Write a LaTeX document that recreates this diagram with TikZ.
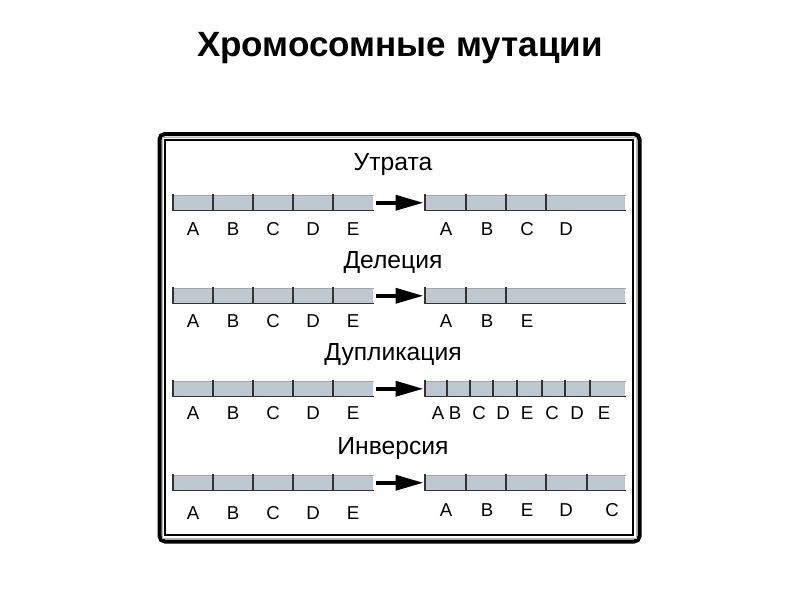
\documentclass[tikz,border=0pt]{standalone}
\usepackage{fontspec}
\setmainfont{Liberation Sans}
\usetikzlibrary{arrows.meta}
\definecolor{barfill}{RGB}{190,200,208}
\definecolor{barrim}{RGB}{160,168,175}
\newcommand\chromo[4]{%
  \node[chrombar, anchor=north west] (#1) at (#2,#3) {};
  \draw[barrim, line width=0.6pt] (#1.north west) -- (#1.north east);
  \foreach \d in {#4} \draw[divline] (\d,#3) -- (\d,#3+15.5);
  \draw[divline] (#1.south west) -- (#1.south east);
}
\begin{document}
\begin{tikzpicture}[x=0.75pt,y=-0.75pt,
  chrombar/.style={fill=barfill, draw=none, inner sep=0pt, minimum width=150pt, minimum height=11.25pt},
  divline/.style={black!80, line width=1.1pt, line cap=rect},
  lab/.style={font=\fontsize{14}{16}\selectfont, inner sep=0pt},
  sect/.style={font=\fontsize{18.5}{21}\selectfont, inner sep=0pt},
  mutarrow/.style={line width=3.2pt, -{Triangle[length=21pt, width=11pt]}, shorten <=2pt, shorten >=1pt}
]
\useasboundingbox (0,0) rectangle (800,600);
\fill[white] (0,0) rectangle (800,600);

\node[font=\bfseries\fontsize{26.3}{30}\selectfont, inner sep=0pt] (title) at (400,48) {Хромосомные мутации};

% frame
\draw[black, line width=3pt, rounded corners=4pt] (159.5,134) rectangle (639.5,541.5);
\draw[gray!60, line width=0.6pt] (162.5,137) rectangle (636.5,538.5);
\draw[black, line width=1.1pt] (165,140) rectangle (633,535);

% row 1: Утрата
\node[sect] (s1) at (393,165) {Утрата};
\chromo{L1}{173}{195}{173,213,253,293,333}
\chromo{R1}{425}{195}{425,466,506,546}
\draw[mutarrow] (L1.east) -- (R1.west);
\foreach \t/\x [count=\i] in {A/193,B/233,C/273,D/313,E/353}
  \node[lab] (l1\i) at (\x,229) {\t};
\foreach \t/\x [count=\i] in {A/446,B/487,C/527,D/566}
  \node[lab] (r1\i) at (\x,229) {\t};

% row 2: Делеция
\node[sect] (s2) at (393,262) {Делеция};
\chromo{L2}{173}{288}{173,213,253,293,333}
\chromo{R2}{425}{288}{425,466,506}
\draw[mutarrow] (L2.east) -- (R2.west);
\foreach \t/\x [count=\i] in {A/193,B/233,C/273,D/313,E/353}
  \node[lab] (l2\i) at (\x,321) {\t};
\foreach \t/\x [count=\i] in {A/446,B/487,E/527}
  \node[lab] (r2\i) at (\x,321) {\t};

% row 3: Дупликация
\node[sect] (s3) at (393,355) {Дупликация};
\chromo{L3}{173}{381}{173,213,253,293,333}
\chromo{R3}{425}{381}{425,447,470,493,517,542,565,590}
\draw[mutarrow] (L3.east) -- (R3.west);
\foreach \t/\x [count=\i] in {A/193,B/233,C/273,D/313,E/353}
  \node[lab] (l3\i) at (\x,413) {\t};
\foreach \t/\x [count=\i] in {A/438,B/455,C/479,D/503,E/527,C/552,D/577,E/604}
  \node[lab] (r3\i) at (\x,413) {\t};

% row 4: Инверсия
\node[sect] (s4) at (393,449) {Инверсия};
\chromo{L4}{173}{475}{173,213,253,293,333}
\chromo{R4}{425}{475}{425,466,506,546,587}
\draw[mutarrow] (L4.east) -- (R4.west);
\foreach \t/\x [count=\i] in {A/193,B/233,C/273,D/313,E/353}
  \node[lab] (l4\i) at (\x,513) {\t};
\foreach \t/\x [count=\i] in {A/446,B/487,E/527,D/566,C/612}
  \node[lab] (r4\i) at (\x,510) {\t};
\end{tikzpicture}
\end{document}
